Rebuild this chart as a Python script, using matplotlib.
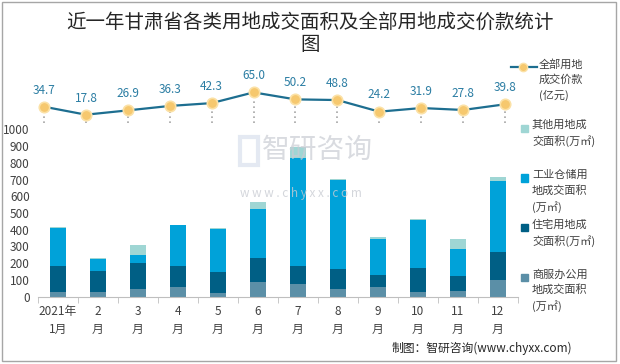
import numpy as np
import matplotlib.pyplot as plt
from matplotlib.lines import Line2D
from matplotlib.patches import Rectangle

plt.rcParams['font.family'] = ['Noto Sans CJK SC', 'DejaVu Sans']

months = ['2021年\n1月', '2\n月', '3\n月', '4\n月', '5\n月', '6\n月',
          '7\n月', '8\n月', '9\n月', '10\n月', '11\n月', '12\n月']
commercial = [26, 26, 46, 56, 24, 88, 76, 46, 60, 26, 34, 100]
residential = [160, 128, 154, 128, 122, 142, 110, 120, 70, 144, 90, 168]
industrial = [224, 74, 50, 244, 260, 296, 642, 534, 214, 290, 160, 426]
other = [6, 4, 56, 2, 4, 38, 66, 4, 10, 2, 58, 24]
price = [34.7, 17.8, 26.9, 36.3, 42.3, 65.0, 50.2, 48.8, 24.2, 31.9, 27.8, 39.8]

c_com = '#5b8fa7'
c_res = '#005f85'
c_ind = '#00a2d9'
c_oth = '#9fd6d4'
c_line = '#1d6e90'
c_mark = '#f6c86e'
c_txt = '#404040'

W, H = 620, 364
fig = plt.figure(figsize=(W / 100, H / 100), dpi=100)

def box(l, r, top, bottom):
    return [l / W, 1 - bottom / H, (r - l) / W, (bottom - top) / H]

# bars
ax = fig.add_axes(box(38, 518, 129.3, 296.7))
x = np.arange(len(months))
bw = 0.4
b1 = np.array(commercial)
b2 = b1 + np.array(residential)
b3 = b2 + np.array(industrial)
ax.bar(x, commercial, bw, color=c_com)
ax.bar(x, residential, bw, bottom=b1, color=c_res)
ax.bar(x, industrial, bw, bottom=b2, color=c_ind)
ax.bar(x, other, bw, bottom=b3, color=c_oth)
ax.set_xlim(-0.5, len(months) - 0.5)
ax.set_ylim(0, 1000)
ax.set_yticks(range(0, 1001, 100))
ax.tick_params(axis='y', length=0, labelsize=8.5, labelcolor=c_txt, pad=6)
ax.set_xticks(x)
ax.set_xticklabels(months, fontsize=8.5, color=c_txt, linespacing=1.45)
ax.tick_params(axis='x', which='major', length=0, pad=6)
ax.set_xticks(np.arange(-0.5, len(months), 1), minor=True)
ax.tick_params(axis='x', which='minor', length=4, color='#bfbfbf')
for s in ['top', 'right', 'left']:
    ax.spines[s].set_visible(False)
ax.spines['bottom'].set_color('#bfbfbf')
ax.patch.set_alpha(0)

# line
lx = fig.add_axes(box(23, 526, 85.3, 123.1))
lx.set_xlim(-0.5, len(months) - 0.5)
lx.set_ylim(0, 80)
lx.axis('off')
lx.vlines(x, 0, price, colors='#a6a6a6', linestyles=(0, (1, 2)), linewidth=1.2)
lx.plot(x, price, color=c_line, linewidth=1.6, marker='o', markersize=7.5,
        markerfacecolor=c_mark, markeredgecolor='#fbe1a6', markeredgewidth=1.2,
        zorder=3)
for xi, v in zip(x, price):
    lx.annotate('%.1f' % v, (xi, v), xytext=(0, 12), textcoords='offset points',
                ha='center', va='center', fontsize=8.5, color='#2b7da3')

# title
fig.text(0.5, 1 - 22 / H, '近一年甘肃省各类用地成交面积及全部用地成交价款统计',
         ha='center', va='center', fontsize=14, color='#262626')
fig.text(0.5, 1 - 45 / H, '图', ha='center', va='center', fontsize=14,
         color='#262626')

# legend
fig.add_artist(Line2D([511 / W, 537 / W], [1 - 67 / H, 1 - 67 / H],
                      color=c_line, linewidth=1.6))
fig.add_artist(Line2D([523 / W], [1 - 67 / H], marker='o', markersize=6,
                      markerfacecolor=c_mark, markeredgecolor='#fbe1a6'))
fig.text(539 / W, 1 - 59 / H, '全部用地\n成交价款\n(亿元)', ha='left', va='top',
         fontsize=8, color=c_txt, linespacing=1.55)

entries = [(c_oth, '其他用地成\n交面积(万㎡)', 128),
           (c_ind, '工业仓储用\n地成交面积\n(万㎡)', 178),
           (c_res, '住宅用地成\n交面积(万㎡)', 227),
           (c_com, '商服办公用\n地成交面积\n(万㎡)', 277)]
for col, lab, yy in entries:
    fig.add_artist(Rectangle((521 / W, 1 - (yy + 3.5) / H), 7 / W, 7 / H,
                             color=col, transform=fig.transFigure))
    fig.text(532 / W, 1 - (yy - 8) / H, lab, ha='left', va='top', fontsize=8,
             color=c_txt, linespacing=1.55)

# watermark
fig.text(262 / W, 1 - 150 / H, '智研咨询', ha='left', va='center', fontsize=20,
         color='#c9ccd3', alpha=0.7)
fig.text(240 / W, 1 - 193 / H, 'w w w . c h y x x . c o m', ha='left',
         va='center', fontsize=8.5, color='#c9ccd3', alpha=0.8)
fig.add_artist(Rectangle((240 / W, 1 - 165 / H), 18 / W, 28 / H,
                         facecolor='none', edgecolor='#d3dbea', linewidth=3,
                         alpha=0.6, transform=fig.transFigure))

# footer
fig.text(572 / W, 1 - 348 / H, '制图：智研咨询(www.chyxx.com)', ha='right',
         va='center', fontsize=8.5, color='#262626')

# frame
fig.add_artist(Rectangle((1.5 / W, 1 - 361 / H), 614 / W, 359.5 / H,
                         facecolor='none', edgecolor='#a6a6a6', linewidth=1,
                         transform=fig.transFigure))

fig.savefig('out.png', dpi=100)
